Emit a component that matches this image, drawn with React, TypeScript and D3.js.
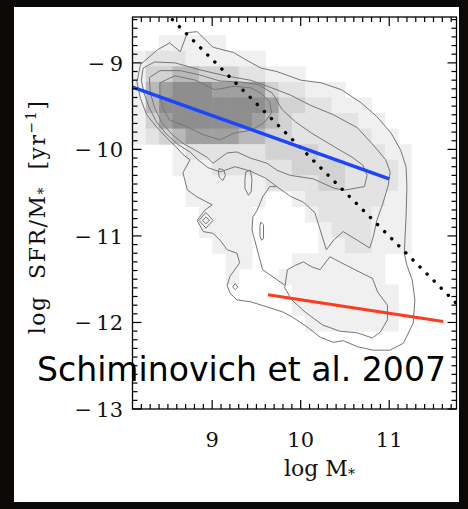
import React from 'react';
import * as d3 from 'd3';

// ---------- data ----------
const X_DOMAIN: [number, number] = [8.1, 11.76];
const Y_DOMAIN: [number, number] = [-13, -8.47];
const X_TICKS = [9, 10, 11];
const X_TICK_LABELS = ['9', '10', '11'];
const Y_TICKS = [-13, -12, -11, -10, -9];
const Y_TICK_LABELS = ['−13', '−12', '−11', '−10', '−9'];

// 2D histogram of galaxies (bins 0.15 dex in mass, 0.18 dex in sSFR, rows from top)
const BIN_X0 = 8.1;
const BIN_DX = 0.15;
const BIN_Y0 = -8.5;
const BIN_DY = 0.18;
const DENSITY_ROWS = [
  '000000000000000000000000',
  '001111100000000000000000',
  '122211111100000000000000',
  '133443332211100000000000',
  '145666555532211100000000',
  '146666666653322111000000',
  '135666666543222221100000',
  '123455554433222222110000',
  '000122222233332222211000',
  '000111222222333322221000',
  '000011111122223322221000',
  '000011111100122222211000',
  '000001111000012222111000',
  '000001111000001222111000',
  '000000111000001122111000',
  '000000011000111111100000',
  '000000010001111111100000',
  '000000000000111111110000',
  '000000000000111111110000',
  '000000000000011111110000',
  '000000000000000000000000',
  '000000000000000000000000',
  '000000000000000000000000',
  '000000000000000000000000',
  '000000000000000000000000',
];
const SHADES = ['none', '#f0f0f0', '#e3e3e3', '#d2d2d2', '#b9b9b9', '#a0a0a0', '#8e8e8e'];

// contour lines [log M*, log sSFR]
const CONTOUR_OUTER: [number, number][] = [
  [8.19, -9.02], [8.38, -8.85], [8.52, -8.77], [8.64, -8.87], [8.72, -8.65], [8.83, -8.64], [9.01, -8.82],
  [9.24, -8.88], [9.39, -8.97], [9.55, -9.06], [9.73, -9.1], [10.0, -9.2], [10.23, -9.23], [10.46, -9.31],
  [10.68, -9.46], [10.86, -9.62], [11.02, -9.81], [11.13, -10.01], [11.19, -10.2], [11.2, -10.43],
  [11.19, -10.78], [11.17, -11.2], [11.2, -11.34], [11.26, -11.51], [11.29, -11.74], [11.27, -12.01],
  [11.16, -12.24], [11.01, -12.32], [10.82, -12.32], [10.64, -12.28], [10.48, -12.21], [10.37, -12.23],
  [10.22, -12.17], [10.07, -12.05], [9.91, -11.94], [9.8, -11.88], [9.62, -11.82], [9.43, -11.76],
  [9.28, -11.74], [9.2, -11.66], [9.17, -11.57], [9.2, -11.47], [9.31, -11.31], [9.28, -11.2],
  [9.17, -11.16], [9.09, -11.05], [9.01, -10.97], [8.9, -10.95], [8.83, -10.82], [8.92, -10.7],
  [9.0, -10.64], [8.83, -10.55], [8.72, -10.47], [8.67, -10.27], [8.75, -10.12], [8.67, -10.06],
  [8.6, -9.98], [8.49, -9.87], [8.38, -9.75], [8.26, -9.6], [8.19, -9.41], [8.15, -9.22],
];
const CONTOUR_BLUE_ENVELOPE: [number, number][] = [
  [8.22, -9.06], [8.35, -8.99], [8.58, -9.0], [8.86, -9.08], [9.15, -9.15], [9.43, -9.2], [9.65, -9.28],
  [9.88, -9.37], [10.11, -9.49], [10.37, -9.6], [10.64, -9.75], [10.82, -9.95], [10.96, -10.12],
  [11.01, -10.26], [10.99, -10.41], [10.93, -10.62], [10.86, -10.82], [10.82, -11.01], [10.78, -11.14],
  [10.64, -11.05], [10.48, -10.95], [10.37, -11.05], [10.29, -11.16], [10.22, -10.93], [10.16, -10.73],
  [10.03, -10.61], [9.88, -10.54], [9.73, -10.43], [9.6, -10.33], [9.43, -10.25], [9.26, -10.2],
  [9.09, -10.26], [8.95, -10.21], [8.84, -10.12], [8.75, -10.03], [8.61, -9.94], [8.48, -9.82],
  [8.37, -9.68], [8.29, -9.52], [8.23, -9.35], [8.2, -9.2],
];
const CONTOUR_BLUE_MID: [number, number][] = [
  [8.29, -9.17], [8.41, -9.09], [8.64, -9.09], [8.86, -9.14], [9.09, -9.21], [9.31, -9.22], [9.52, -9.25],
  [9.68, -9.35], [9.79, -9.54], [9.94, -9.68], [10.12, -9.81], [10.38, -9.97], [10.58, -10.09],
  [10.7, -10.18], [10.75, -10.3], [10.72, -10.43], [10.5, -10.47], [10.38, -10.45], [10.14, -10.34],
  [9.88, -10.3], [9.73, -10.24], [9.62, -10.16], [9.43, -10.1], [9.28, -10.03], [9.17, -10.04],
  [9.01, -10.16], [8.94, -10.09], [8.81, -10.01], [8.67, -9.93], [8.55, -9.83], [8.43, -9.69],
  [8.35, -9.52], [8.3, -9.34],
];
const CONTOUR_BLUE_CORE: [number, number][] = [
  [8.41, -9.23], [8.58, -9.15], [8.81, -9.2], [9.03, -9.31], [9.25, -9.27], [9.44, -9.29], [9.55, -9.35],
  [9.65, -9.45], [9.67, -9.58], [9.59, -9.69], [9.44, -9.78], [9.25, -9.81], [9.09, -9.89], [8.9, -9.83],
  [8.72, -9.74], [8.52, -9.66], [8.45, -9.54], [8.41, -9.39],
];
const CONTOUR_RED_CLOUD: [number, number][] = [
  [9.85, -11.39], [9.94, -11.34], [10.03, -11.3], [10.13, -11.36], [10.22, -11.39], [10.33, -11.24],
  [10.44, -11.3], [10.67, -11.42], [10.81, -11.49], [10.87, -11.65], [10.98, -11.8], [10.98, -11.97],
  [10.9, -12.11], [10.81, -12.18], [10.64, -12.12], [10.44, -12.1], [10.25, -12.03], [10.05, -11.88],
  [9.9, -11.74], [9.82, -11.6],
];
const CONTOUR_GAP: [number, number][] = [
  [9.73, -10.43], [9.65, -10.43], [9.57, -10.55], [9.51, -10.7], [9.46, -10.78], [9.45, -10.93],
  [9.52, -11.2], [9.57, -11.39], [9.71, -11.49], [9.82, -11.57],
];
const CONTOUR_ISLANDS: [number, number][][] = [
  [[9.08, -10.22], [9.13, -10.24], [9.15, -10.3], [9.12, -10.36], [9.08, -10.32], [9.07, -10.26]],
  [[9.38, -10.26], [9.43, -10.24], [9.45, -10.35], [9.44, -10.49], [9.41, -10.53], [9.37, -10.45], [9.37, -10.35]],
  [[8.85, -10.82], [8.93, -10.73], [9.01, -10.82], [8.93, -10.91]],
  [[8.89, -10.82], [8.93, -10.78], [8.97, -10.82], [8.93, -10.86]],
  [[9.55, -10.84], [9.58, -10.87], [9.58, -11.03], [9.56, -11.05], [9.54, -11.0], [9.54, -10.88]],
  [[9.23, -11.59], [9.26, -11.55], [9.29, -11.59], [9.26, -11.62]],
];

// fitted relations
const MAIN_SEQUENCE: [number, number][] = [[8.1, -9.28], [11.0, -10.34]];
const RED_SEQUENCE: [number, number][] = [[9.63, -11.68], [11.61, -11.99]];
const CONSTANT_SFR: [number, number][] = [[8.55, -8.5], [11.76, -11.78]];

const CREDIT = 'Schiminovich et al. 2007';

// ---------- chart ----------
export default function App() {
  const W = 468;
  const H = 509;
  const x = d3.scaleLinear().domain(X_DOMAIN).range([132.5, 456.5]);
  const y = d3.scaleLinear().domain(Y_DOMAIN).range([409, 17]);
  const [x0, x1] = x.range();
  const [y0, y1] = y.range();

  const line = d3.line<[number, number]>().x((d) => x(d[0])).y((d) => y(d[1]));
  const closed = d3
    .line<[number, number]>()
    .x((d) => x(d[0]))
    .y((d) => y(d[1]))
    .curve(d3.curveLinearClosed);

  const cells: { key: string; x: number; y: number; w: number; h: number; fill: string }[] = [];
  DENSITY_ROWS.forEach((row, r) => {
    row.split('').forEach((ch, c) => {
      const lvl = +ch;
      if (!lvl) return;
      const xa = x(BIN_X0 + c * BIN_DX);
      const xb = x(BIN_X0 + (c + 1) * BIN_DX);
      const ya = y(BIN_Y0 - r * BIN_DY);
      const yb = y(BIN_Y0 - (r + 1) * BIN_DY);
      cells.push({ key: `${r}-${c}`, x: xa, y: ya, w: xb - xa + 0.5, h: yb - ya + 0.5, fill: SHADES[lvl] });
    });
  });

  const xMinor = d3.range(81, 118).map((v) => v / 10).filter((v) => v > X_DOMAIN[0] && v < X_DOMAIN[1] && !X_TICKS.includes(v));
  const yMinor = d3.range(-129, -84).map((v) => v / 10).filter((v) => v > Y_DOMAIN[0] && v < Y_DOMAIN[1] && !Y_TICKS.includes(v));
  const MAJ = 9;
  const MIN = 5;

  const closedContours = [CONTOUR_OUTER, CONTOUR_BLUE_ENVELOPE, CONTOUR_BLUE_MID, CONTOUR_BLUE_CORE, CONTOUR_RED_CLOUD, ...CONTOUR_ISLANDS];

  return (
    <svg width={W} height={H} style={{ position: 'absolute', left: 0, top: 0 }} xmlns="http://www.w3.org/2000/svg">
      <rect x={0} y={0} width={W} height={H} fill="#0b0908" />
      <rect x={14} y={7} width={445} height={495} fill="#ffffff" />
      <defs>
        <clipPath id="plotClip">
          <rect x={x0} y={y1} width={x1 - x0} height={y0 - y1} />
        </clipPath>
      </defs>
      <g clipPath="url(#plotClip)">
        {cells.map((c) => (
          <rect key={c.key} x={c.x} y={c.y} width={c.w} height={c.h} fill={c.fill} />
        ))}
        {closedContours.map((pts, i) => (
          <path key={`c${i}`} d={closed(pts) || ''} fill="none" stroke="#767676" strokeWidth={1} />
        ))}
        <path d={line(CONTOUR_GAP) || ''} fill="none" stroke="#767676" strokeWidth={1} />
        <path d={line(CONSTANT_SFR) || ''} fill="none" stroke="#000" strokeWidth={3.4} strokeLinecap="round" strokeDasharray="0.1 9.9" />
        <path d={line(MAIN_SEQUENCE) || ''} fill="none" stroke="#1a46ff" strokeWidth={3.4} />
        <path d={line(RED_SEQUENCE) || ''} fill="none" stroke="#ff3b1e" strokeWidth={3} />
      </g>
      {/* frame and ticks */}
      <rect x={x0} y={y1} width={x1 - x0} height={y0 - y1} fill="none" stroke="#000" strokeWidth={1.3} />
      <g stroke="#000" strokeWidth={1.2}>
        {X_TICKS.map((v) => (
          <g key={`xt${v}`}>
            <line x1={x(v)} x2={x(v)} y1={y0} y2={y0 - MAJ} />
            <line x1={x(v)} x2={x(v)} y1={y1} y2={y1 + MAJ} />
          </g>
        ))}
        {xMinor.map((v) => (
          <g key={`xm${v}`}>
            <line x1={x(v)} x2={x(v)} y1={y0} y2={y0 - MIN} />
            <line x1={x(v)} x2={x(v)} y1={y1} y2={y1 + MIN} />
          </g>
        ))}
        {Y_TICKS.map((v) => (
          <g key={`yt${v}`}>
            <line x1={x0} x2={x0 + MAJ} y1={y(v)} y2={y(v)} />
            <line x1={x1} x2={x1 - MAJ} y1={y(v)} y2={y(v)} />
          </g>
        ))}
        {yMinor.map((v) => (
          <g key={`ym${v}`}>
            <line x1={x0} x2={x0 + MIN} y1={y(v)} y2={y(v)} />
            <line x1={x1} x2={x1 - MIN} y1={y(v)} y2={y(v)} />
          </g>
        ))}
      </g>
      <g fontFamily="'DejaVu Serif', serif" fontSize={21} fill="#111">
        {X_TICKS.map((v, i) => (
          <text key={`xl${v}`} x={x(v)} y={447} textAnchor="middle">
            {X_TICK_LABELS[i]}
          </text>
        ))}
        {Y_TICKS.map((v, i) => (
          <text key={`yl${v}`} x={123} y={y(v) + 8} textAnchor="end">
            {Y_TICK_LABELS[i].replace('−', '−\u2009')}
          </text>
        ))}
        <text x={284} y={476} fontSize={22}>
          log  M<tspan fontSize={14} dy={3}>*</tspan>
        </text>
        <text transform="translate(45,217) rotate(-90)" textAnchor="middle" fontSize={22} letterSpacing={1.5} wordSpacing={8}>
          log SFR/M<tspan fontSize={14} dy={3}>*</tspan>
          <tspan dy={-3}> [yr</tspan>
          <tspan fontSize={14} dy={-9}>−1</tspan>
          <tspan dy={9}>]</tspan>
        </text>
      </g>
      <text x={37} y={381} fontFamily="'DejaVu Sans', sans-serif" fontSize={34} fill="#000" textLength={409} lengthAdjust="spacingAndGlyphs">
        {CREDIT}
      </text>
    </svg>
  );
}
